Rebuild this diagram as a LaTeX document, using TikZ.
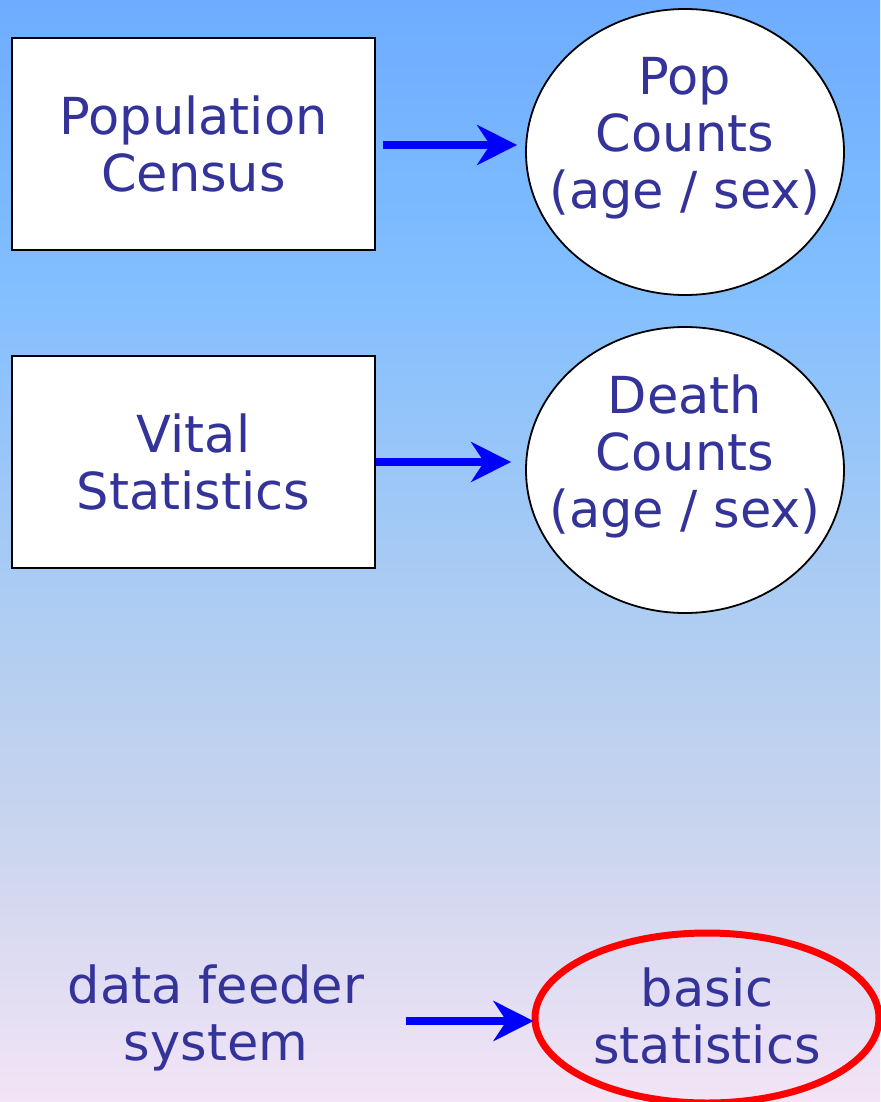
\documentclass[tikz,border=0pt]{standalone}
\usepackage{fontspec}
\setmainfont{DejaVu Sans}
\usetikzlibrary{shapes.geometric,arrows.meta,calc}
\definecolor{txtblue}{RGB}{51,51,153}
\definecolor{arrblue}{RGB}{0,0,255}
\definecolor{bgtop}{RGB}{110,172,255}
\definecolor{bgupper}{RGB}{128,190,255}
\definecolor{bgmid}{RGB}{175,205,242}
\definecolor{bglow}{RGB}{200,212,238}
\definecolor{bgbot}{RGB}{243,228,246}
\pgfdeclareverticalshading{bgshade}{100bp}{color(0bp)=(bgbot); color(25bp)=(bgbot); color(37.8bp)=(bglow); color(46.9bp)=(bgmid); color(62.7bp)=(bgupper); color(75bp)=(bgtop); color(100bp)=(bgtop)}
\tikzset{
  lbl/.style={text=txtblue, font=\fontsize{51}{57}\selectfont, align=center, inner sep=0pt},
  srcbox/.style={lbl, draw=black, line width=1.6pt, fill=white, minimum width=363pt, minimum height=212pt},
  cnt/.style={ellipse, draw=black, line width=1.8pt, fill=white, minimum width=318pt, minimum height=286pt, inner sep=0pt},
  arr/.style={arrblue, line width=8pt, -{Stealth[length=40pt,width=40pt,inset=13pt]}}
}
\begin{document}
\begin{tikzpicture}[x=1pt,y=-1pt]
\useasboundingbox (0,0) rectangle (880,1102);
\shade[shading=bgshade] (0,0) rectangle (880,1102);
\node[srcbox] (census) at (193.5,144) {Population\\Census};
\node[cnt] (pop) at (685,152) {};
\node[lbl] (poptxt) at (685,138) {Pop\\Counts\\(age / sex)};
\node[srcbox] (vital) at (193.5,462) {Vital\\Statistics};
\node[cnt] (death) at (685,470) {};
\node[lbl] (deathtxt) at (685,456) {Death\\Counts\\(age / sex)};
\node[lbl] (feeder) at (216,1018) {data feeder\\system};
\node[ellipse, draw=red, line width=7pt, minimum width=344pt, minimum height=170pt, inner sep=0pt] (basic) at (707,1018) {};
\node[lbl] (basictxt) at (707,1016) {basic\\statistics};
\draw[arr] ([xshift=7pt]census.east |- 0,145) -- ([xshift=-8pt]pop.west |- 0,145);
\draw[arr] (vital.east) -- ([xshift=-14pt]death.west |- vital.east);
\draw[arr] (feeder.east |- 0,1021) ++(42,0) coordinate (fs) (fs) -- ([xshift=2pt]basic.west |- 0,1021);
\end{tikzpicture}
\end{document}
